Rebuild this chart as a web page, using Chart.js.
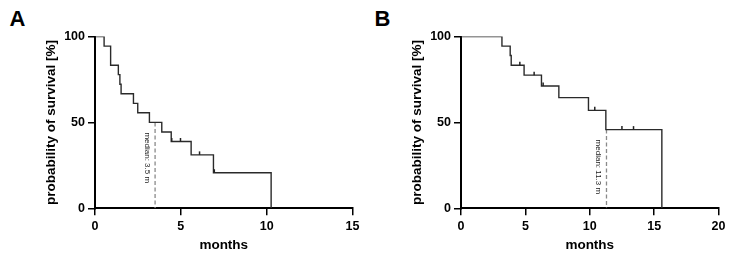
<!DOCTYPE html>
<html>
<head>
<meta charset="utf-8">
<script src="https://cdn.jsdelivr.net/npm/chart.js@4/dist/chart.umd.min.js"></script>
<style>
  html, body { margin: 0; padding: 0; background: #fff; }
  #wrap { position: relative; width: 731px; height: 265px; overflow: hidden; background: #fff; }
  canvas { position: absolute; top: 0; }
  .lbl { position: absolute; font: bold 22px "Liberation Sans", Arial, sans-serif; line-height: 22px; color: #000; }
</style>
</head>
<body>
<div id="wrap">
  <div class="lbl" style="left:9.5px; top:8.2px;">A</div>
  <div class="lbl" style="left:374.4px; top:8.2px;">B</div>
  <canvas id="cA" width="365" height="265" style="left:0px;"></canvas>
  <canvas id="cB" width="365" height="265" style="left:366px;"></canvas>
</div>
<script>
// ---- Panel A data (Kaplan-Meier) ----
const A_months   = [0, 0.53, 0.91, 1.36, 1.45, 1.52, 2.24, 2.49, 3.17, 3.89, 4.44, 5.6, 6.9, 10.26];
const A_survival = [100, 94.4, 83.3, 77.8, 72.2, 66.7, 61.1, 55.6, 50.0, 44.4, 38.9, 31.1, 20.7, 0];
const A_censorMonths   = [4.47, 4.98, 6.09, 6.95];
const A_censorSurvival = [38.9, 38.9, 31.1, 20.7];
const A_median = 3.5;
const A_medianLevel = 50;
const A_medianText = 'median: 3.5 m';
const A_xTicks = [0, 5, 10, 15];

// ---- Panel B data ----
const B_months   = [0, 3.18, 3.82, 3.9, 4.9, 6.25, 7.6, 9.9, 11.25, 15.6];
const B_survival = [100, 94.4, 88.9, 83.3, 77.5, 71.2, 64.4, 57.0, 45.8, 0];
const B_censorMonths   = [4.57, 5.68, 6.38, 10.39, 12.5, 13.4];
const B_censorSurvival = [83.3, 77.5, 71.2, 57.0, 45.8, 45.8];
const B_median = 11.3;
const B_medianLevel = 45.8;
const B_medianText = 'median: 11.3 m';
const B_xTicks = [0, 5, 10, 15, 20];

const yTicks = [0, 50, 100];
const xTitle = 'months';
const yTitle = 'probability of survival [%]';

const FONT = '"Liberation Sans", Arial, sans-serif';

const kmExtras = {
  id: 'kmExtras',
  afterDatasetsDraw(chart, args, opts) {
    const { ctx, scales: { x, y } } = chart;
    ctx.save();
    ctx.strokeStyle = '#222';
    ctx.lineWidth = 1.5;
    opts.censorX.forEach((t, i) => {
      const px = x.getPixelForValue(t);
      const py = y.getPixelForValue(opts.censorY[i]);
      ctx.beginPath();
      ctx.moveTo(px, py);
      ctx.lineTo(px, py - 3.5);
      ctx.stroke();
    });
    const mx = x.getPixelForValue(opts.median);
    const my = y.getPixelForValue(opts.medianLevel);
    ctx.translate(mx - 8, my + 10);
    ctx.rotate(Math.PI / 2);
    ctx.font = 'normal 400 8px "Liberation Sans", "DejaVu Sans", sans-serif';
    ctx.fillStyle = '#222';
    ctx.textAlign = 'left';
    ctx.textBaseline = 'middle';
    ctx.fillText(opts.medianText, 0, 0);
    ctx.restore();
  }
};

function makeChart(id, months, surv, cM, cS, median, medLevel, medText, xTicks) {
  const curve = months.map((m, i) => ({ x: m, y: surv[i] }));
  const medLine = [{ x: median, y: medLevel }, { x: median, y: 0 }];
  return new Chart(document.getElementById(id), {
    type: 'line',
    data: {
      datasets: [
        { data: curve, stepped: 'before', borderColor: '#2a2a2a', borderWidth: 1.4, pointRadius: 0, fill: false, tension: 0 },
        { data: medLine, borderColor: '#8a8a8a', borderWidth: 1.3, borderDash: [4, 2.5], pointRadius: 0, fill: false }
      ]
    },
    options: {
      responsive: false,
      animation: false,
      events: [],
      layout: { padding: { left: 0, right: 12.5, top: 36.5, bottom: 0 } },
      plugins: {
        legend: { display: false },
        tooltip: { enabled: false },
        kmExtras: { censorX: cM, censorY: cS, median: median, medianLevel: medLevel, medianText: medText }
      },
      scales: {
        x: {
          type: 'linear',
          min: xTicks[0], max: xTicks[xTicks.length - 1],
          afterBuildTicks: (s) => { s.ticks = xTicks.map(v => ({ value: v })); },
          afterFit: (s) => { s.height = 56.7; },
          grid: { drawOnChartArea: false, drawTicks: true, tickLength: 7, color: '#000', lineWidth: 1.5 },
          border: { display: true, color: '#000', width: 2 },
          ticks: { color: '#000', padding: 4, font: { family: FONT, size: 12.5, weight: 'bold' }, maxRotation: 0 },
          title: { display: true, text: xTitle, color: '#000', padding: { top: 0, bottom: 11.6 }, font: { family: FONT, size: 13.5, weight: 'bold' } }
        },
        y: {
          type: 'linear',
          min: yTicks[0], max: yTicks[yTicks.length - 1],
          afterBuildTicks: (s) => { s.ticks = yTicks.map(v => ({ value: v })); },
          afterFit: (s) => { s.width = 95; },
          grid: { drawOnChartArea: false, drawTicks: true, tickLength: 7, color: '#000', lineWidth: 1.5 },
          border: { display: true, color: '#000', width: 2 },
          ticks: { color: '#000', padding: 3, font: { family: FONT, size: 12.5, weight: 'bold' } },
          title: { display: true, text: yTitle, color: '#000', padding: { top: 43.6, bottom: 0 }, font: { family: FONT, size: 13.5, weight: 'bold' } }
        }
      }
    },
    plugins: [kmExtras]
  });
}

makeChart('cA', A_months, A_survival, A_censorMonths, A_censorSurvival, A_median, A_medianLevel, A_medianText, A_xTicks);
makeChart('cB', B_months, B_survival, B_censorMonths, B_censorSurvival, B_median, B_medianLevel, B_medianText, B_xTicks);
</script>
</body>
</html>
